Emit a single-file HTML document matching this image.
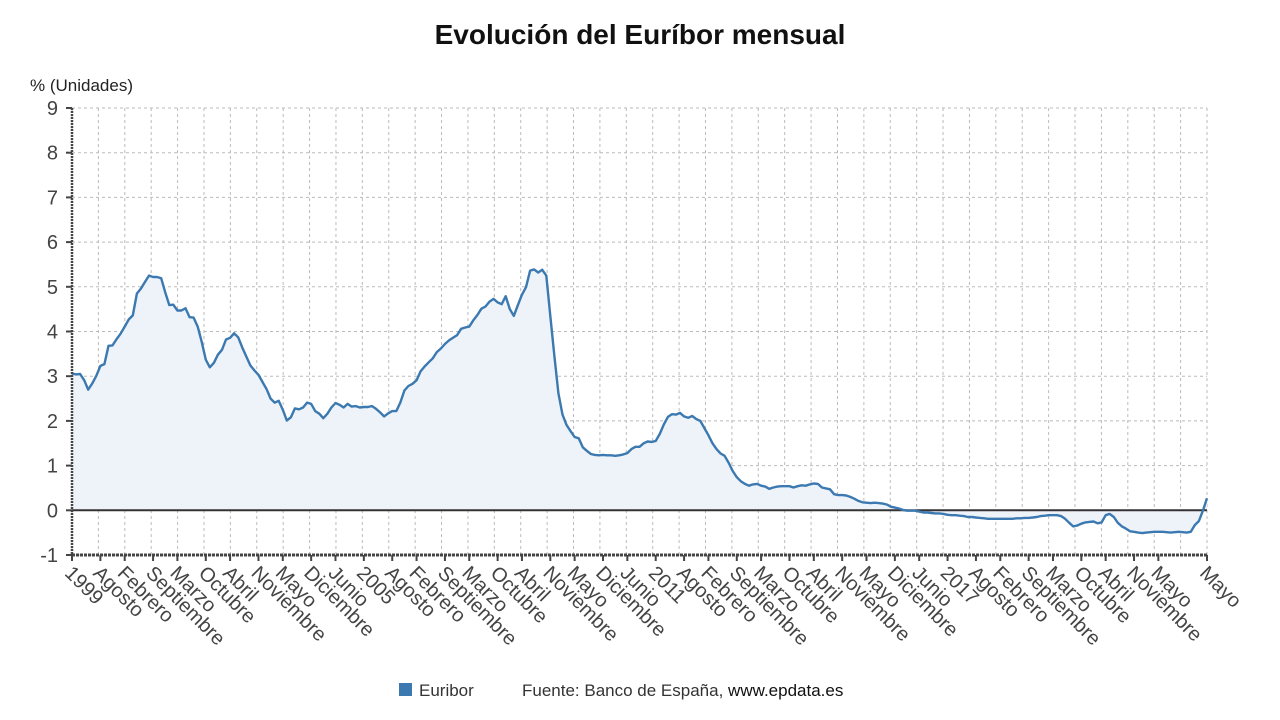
<!DOCTYPE html>
<html><head><meta charset="utf-8"><style>
body{margin:0;background:#fff;}
svg{display:block;font-family:"Liberation Sans","DejaVu Sans",sans-serif;}
</style></head><body>
<svg id="s" width="1280" height="720" viewBox="0 0 1280 720">
<text x="640" y="44" text-anchor="middle" font-size="28" font-weight="bold" fill="#111">Evolución del Euríbor mensual</text>
<text x="30" y="91" font-size="17" fill="#222">% (Unidades)</text>
<g id="grid"></g>
<path id="fill" fill="#eef3fa" stroke="none"/>
<line x1="72" y1="510.3" x2="1207" y2="510.3" stroke="#333" stroke-width="2"/>
<path id="line" fill="none" stroke="#3b79b0" stroke-width="2.4" stroke-linejoin="round"/>
<line x1="72" y1="108" x2="72" y2="555" stroke="#444" stroke-width="2.5" stroke-dasharray="2 1"/>
<line x1="72" y1="555" x2="1207" y2="555" stroke="#444" stroke-width="3" stroke-dasharray="3 1"/>
<g id="lab"></g>
<rect x="399" y="683" width="13" height="13" fill="#3b79b0"/>
<text x="419" y="696" font-size="17" fill="#333">Euribor</text>
<text x="522" y="696" font-size="17" fill="#333">Fuente: Banco de España, <tspan fill="#111">www.epdata.es</tspan></text>
</svg>
<script>
var d=[3.06,3.04,3.05,2.91,2.70,2.84,3.01,3.23,3.27,3.68,3.69,3.83,
3.95,4.11,4.27,4.36,4.85,4.96,5.11,5.25,5.22,5.22,5.19,4.88,
4.59,4.60,4.47,4.47,4.52,4.32,4.31,4.11,3.77,3.37,3.20,3.30,
3.48,3.59,3.82,3.86,3.96,3.87,3.64,3.44,3.24,3.13,3.03,2.87,
2.71,2.50,2.41,2.45,2.25,2.01,2.08,2.28,2.26,2.30,2.41,2.38,
2.22,2.16,2.06,2.16,2.30,2.40,2.36,2.30,2.38,2.32,2.33,2.30,
2.31,2.31,2.33,2.27,2.19,2.10,2.17,2.22,2.22,2.41,2.68,2.78,
2.83,2.91,3.11,3.22,3.31,3.40,3.54,3.62,3.72,3.80,3.86,3.92,
4.06,4.09,4.11,4.25,4.37,4.51,4.56,4.67,4.73,4.65,4.61,4.79,
4.50,4.35,4.59,4.82,4.99,5.36,5.39,5.32,5.38,5.25,4.35,3.45,
2.62,2.14,1.91,1.77,1.64,1.61,1.41,1.33,1.26,1.24,1.23,1.24,
1.23,1.23,1.22,1.23,1.25,1.28,1.37,1.42,1.42,1.50,1.54,1.53,
1.55,1.71,1.92,2.09,2.15,2.14,2.18,2.10,2.07,2.11,2.04,2.00,
1.84,1.68,1.50,1.37,1.27,1.22,1.06,0.88,0.74,0.65,0.59,0.55,
0.58,0.59,0.55,0.53,0.48,0.51,0.53,0.54,0.54,0.54,0.51,0.54,
0.56,0.55,0.58,0.60,0.59,0.51,0.49,0.47,0.36,0.34,0.34,0.33,
0.30,0.26,0.21,0.18,0.17,0.16,0.17,0.16,0.15,0.13,0.08,0.06,
0.04,0.01,-0.01,-0.01,-0.01,-0.03,-0.05,-0.05,-0.06,-0.07,-0.07,-0.08,
-0.10,-0.11,-0.11,-0.12,-0.13,-0.15,-0.15,-0.16,-0.17,-0.18,-0.19,-0.19,
-0.19,-0.19,-0.19,-0.19,-0.19,-0.18,-0.18,-0.17,-0.17,-0.16,-0.15,-0.13,
-0.12,-0.11,-0.11,-0.11,-0.13,-0.19,-0.28,-0.36,-0.34,-0.30,-0.27,-0.26,
-0.25,-0.29,-0.27,-0.11,-0.08,-0.15,-0.28,-0.36,-0.41,-0.47,-0.48,-0.50,
-0.51,-0.50,-0.49,-0.48,-0.48,-0.48,-0.49,-0.50,-0.49,-0.48,-0.49,-0.50,
-0.48,-0.33,-0.24,-0.01,0.27];
var N=281,X0=72,X1=1207,pm=(X1-X0)/(N-1);
function X(i){return X0+i*pm}function Y(v){return 510.3-v*44.7}
var ns="http://www.w3.org/2000/svg",g=document.getElementById('grid'),lab=document.getElementById('lab');
function el(p,t,a,txt){var e=document.createElementNS(ns,t);for(var k in a)e.setAttribute(k,a[k]);if(txt!=null)e.textContent=txt;p.appendChild(e);return e}
for(var k=0;k<=43;k++){var x=X0+k*(X1-X0)/43;el(g,'line',{x1:x,y1:108,x2:x,y2:555,stroke:'#bbb','stroke-width':1,'stroke-dasharray':'3 3'})}
for(var v=-1;v<=9;v++){var y=Y(v);el(g,'line',{x1:72,y1:y,x2:1207,y2:y,stroke:'#bbb','stroke-width':1,'stroke-dasharray':'3 3'});
el(g,'line',{x1:66,y1:y,x2:72,y2:y,stroke:'#444','stroke-width':2});
el(lab,'text',{x:58,y:y+7,'text-anchor':'end','font-size':20,fill:'#444'},v)}
var names=[[0,'1999'],[7,'Agosto'],[13,'Febrero'],[20,'Septiembre'],[26,'Marzo'],[33,'Octubre'],[39,'Abril'],[46,'Noviembre'],[52,'Mayo'],[59,'Diciembre'],[65,'Junio'],[72,'2005'],[79,'Agosto'],[85,'Febrero'],[92,'Septiembre'],[98,'Marzo'],[105,'Octubre'],[111,'Abril'],[118,'Noviembre'],[124,'Mayo'],[131,'Diciembre'],[137,'Junio'],[144,'2011'],[151,'Agosto'],[157,'Febrero'],[164,'Septiembre'],[170,'Marzo'],[177,'Octubre'],[183,'Abril'],[190,'Noviembre'],[196,'Mayo'],[203,'Diciembre'],[209,'Junio'],[216,'2017'],[223,'Agosto'],[229,'Febrero'],[236,'Septiembre'],[242,'Marzo'],[249,'Octubre'],[255,'Abril'],[262,'Noviembre'],[268,'Mayo'],[280,'Mayo']];
names.forEach(function(n){var x=X(n[0]);el(lab,'line',{x1:x,y1:555,x2:x,y2:561,stroke:'#444','stroke-width':2});
el(lab,'text',{x:x-4,y:576,'font-size':20,fill:'#444',transform:'rotate(45 '+(x-4)+' 570)'},n[1])});
var p='',f='M'+X0+' '+Y(0);
for(var i=0;i<d.length;i++){p+=(i?'L':'M')+X(i).toFixed(1)+' '+Y(d[i]).toFixed(1);f+='L'+X(i).toFixed(1)+' '+Y(d[i]).toFixed(1)}
f+='L'+X(d.length-1)+' '+Y(0)+'Z';
document.getElementById('line').setAttribute('d',p);document.getElementById('fill').setAttribute('d',f);
</script>
</body></html>
